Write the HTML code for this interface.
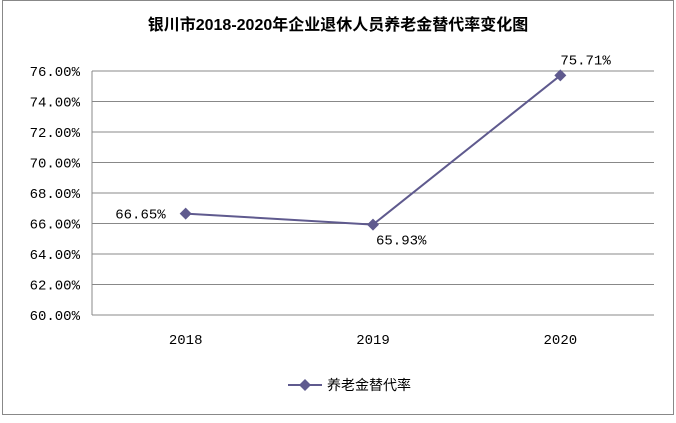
<!DOCTYPE html>
<html><head><meta charset="utf-8"><style>
html,body{margin:0;padding:0;background:#fff;}
body{width:676px;height:418px;overflow:hidden;font-family:"Liberation Sans","Noto Sans CJK SC",sans-serif;}
</style></head><body>
<svg id="chart" width="676" height="418" xmlns="http://www.w3.org/2000/svg">
<rect x="2.5" y="0.5" width="671" height="414" fill="#fff" stroke="#888" stroke-width="1"/>
<text x="338" y="30" text-anchor="middle" font-size="16" font-weight="bold" font-family="Liberation Sans,Noto Sans CJK SC,sans-serif">银川市2018-2020年企业退休人员养老金替代率变化图</text>
<g id="grid"></g><g id="axes"></g><g id="series"></g>
<g>
<line x1="288" y1="385" x2="322" y2="385" stroke="#5f5a8e" stroke-width="2"/>
<path d="M305 379 L311 385 L305 391 L299 385 Z" fill="#5f5a8e"/>
<text x="327" y="390" font-size="14" font-family="Liberation Sans,Noto Sans CJK SC,sans-serif">养老金替代率</text>
</g>
</svg>
<script>
const categories=["2018","2019","2020"];
const values=[66.65,65.93,75.71];
const labels=["66.65%","65.93%","75.71%"];
const yTicks=[60,62,64,66,68,70,72,74,76];
const NS="http://www.w3.org/2000/svg";
const L=92,R=654,T=71,B=315,ymin=60,ymax=76;
const y=v=>B-(v-ymin)/(ymax-ymin)*(B-T);
const x=i=>L+(i+0.5)*(R-L)/categories.length;
function mk(tag,attrs,parent){const e=document.createElementNS(NS,tag);for(const k in attrs)e.setAttribute(k,attrs[k]);parent.appendChild(e);return e;}
const grid=document.getElementById('grid'),axes=document.getElementById('axes'),ser=document.getElementById('series');
yTicks.forEach(v=>{
 const l=mk('line',{x1:L,x2:R,y1:y(v),y2:y(v),stroke:'#888','stroke-width':1},grid);
 
 
 const t=mk('text',{x:L-12,y:y(v)+5,'text-anchor':'end','font-size':14,'font-family':'Liberation Mono,monospace'},axes);
 t.textContent=v.toFixed(2)+'%';
 
 
});
const ax=mk('line',{x1:L,x2:L,y1:T,y2:B,stroke:'#888'},axes);


categories.forEach((c,i)=>{
 const t=mk('text',{x:x(i),y:B+29,'text-anchor':'middle','font-size':14,'font-family':'Liberation Mono,monospace'},axes);
 t.textContent=c;
 
 
});
const pl=mk('polyline',{points:values.map((v,i)=>x(i)+','+y(v)).join(' '),fill:'none',stroke:'#5f5a8e','stroke-width':2},ser);


const offs=[[-20,5,'end'],[3,20,'start'],[0,-11,'start']];
values.forEach((v,i)=>{
 const cx=x(i),cy=y(v);
 const p=mk('path',{d:`M${cx} ${cy-6} L${cx+6} ${cy} L${cx} ${cy+6} L${cx-6} ${cy} Z`,fill:'#5f5a8e'},ser);
 
 
 const o=offs[i];
 const t=mk('text',{x:cx+o[0],y:cy+o[1],'text-anchor':o[2],'font-size':14,'font-family':'Liberation Mono,monospace'},ser);
 t.textContent=labels[i];
 
 
});
</script>
</body></html>
